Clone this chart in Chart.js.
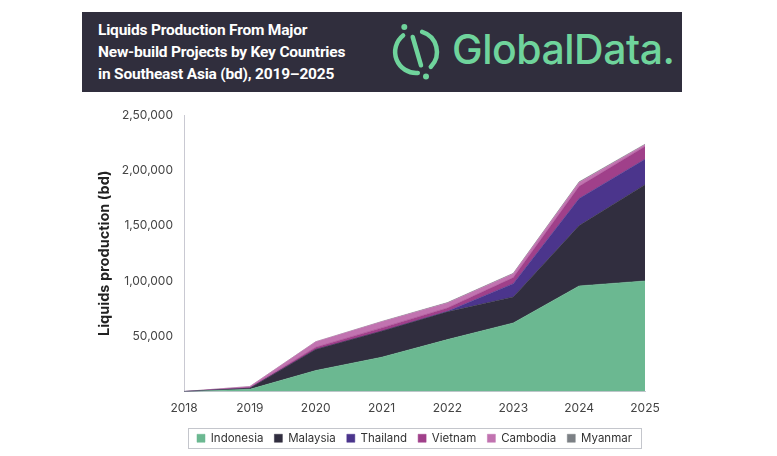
<!DOCTYPE html>
<html>
<head>
<meta charset="utf-8">
<script src="https://cdn.jsdelivr.net/npm/chart.js@4.4.1/dist/chart.umd.min.js"></script>
<style>
  html, body { margin: 0; padding: 0; background: #fff; }
  body { width: 777px; height: 456px; position: relative; overflow: hidden; font-family: Inter, "Noto Sans", sans-serif; }
  .header { position: absolute; left: 82px; top: 12px; width: 600px; height: 80px; background: #302e3d; }
  .title { position: absolute; left: 16px; top: 7px; color: #fff; font-family: Roboto, sans-serif; font-weight: 700; font-size: 15.5px; line-height: 22px; letter-spacing: -0.2px; }
  .logo { position: absolute; left: 303px; top: 9px; width: 62px; height: 62px; }
  .brand { position: absolute; left: 370px; top: 12px; color: #6fd49c; font-family: Inter, sans-serif; font-weight: 500; font-size: 41px; letter-spacing: -0.5px; }
  #wrap { position: absolute; left: 82px; top: 100px; width: 664px; height: 356px; }
</style>
</head>
<body>
<div class="header">
  <div class="title">Liquids Production From Major<br>New-build Projects by Key Countries<br>in Southeast Asia (bd), 2019–2025</div>
  <svg class="logo" viewBox="-31 -31 62 62">
    <path d="M-12.9 -16.5 A21 21 0 0 0 1.8 20.9" fill="none" stroke="#6fd49c" stroke-width="4.5" stroke-linecap="round"/>
    <path d="M6.1 -20.1 A21 21 0 0 1 14.8 14.8" fill="none" stroke="#6fd49c" stroke-width="4.5" stroke-linecap="round"/>
    <line x1="-3.3" y1="-15" x2="5" y2="13.3" stroke="#6fd49c" stroke-width="4.5" stroke-linecap="round"/>
    <circle cx="-11.7" cy="-25" r="3" fill="#6fd49c"/>
    <circle cx="10" cy="24.5" r="3" fill="#6fd49c"/>
  </svg>
  <div class="brand">GlobalData.</div>
</div>
<div id="wrap"><canvas id="c"></canvas></div>
<script>
// ========== DATOS ==========
const anios = ['2018', '2019', '2020', '2021', '2022', '2023', '2024', '2025'];
const indonesia = [0, 2000, 19000, 31000, 47000, 62000, 95500, 100000];
const malaysia  = [0, 1000, 19000, 23500, 25000, 23500, 54500, 87000];
const thailand  = [0, 0, 0, 0, 500, 12000, 24500, 23000];
const vietnam   = [0, 500, 2000, 3000, 3000, 5500, 11000, 11500];
const cambodia  = [0, 1000, 5000, 5500, 4500, 3500, 3500, 1500];
const myanmar   = [0, 0, 0, 300, 400, 400, 600, 600];

const ticksY = { 0: '', 50000: '50,000', 100000: '1,00,000', 150000: '1,50,000', 200000: '2,00,000', 250000: '2,50,000' };

const series = [
  { label: 'Indonesia', data: indonesia, color: '#6bb891' },
  { label: 'Malaysia',  data: malaysia,  color: '#312e3f' },
  { label: 'Thailand',  data: thailand,  color: '#4b358c' },
  { label: 'Vietnam',   data: vietnam,   color: '#a0408a' },
  { label: 'Cambodia',  data: cambodia,  color: '#c173b0' },
  { label: 'Myanmar',   data: myanmar,   color: '#7c8085' }
];

// leyenda centrada bajo el area del grafico, con borde
const ajusteLeyenda = {
  id: 'ajusteLeyenda',
  afterLayout(chart) {
    const lg = chart.legend;
    const d = (chart.chartArea.left + chart.chartArea.right) / 2 - (lg.left + lg.right) / 2;
    lg.left += d;
    lg.right += d;
  },
  afterDraw(chart) {
    const cajas = chart.legend.legendHitBoxes;
    if (!cajas || !cajas.length) return;
    const izq = Math.min(...cajas.map(b => b.left)) - 9;
    const der = Math.max(...cajas.map(b => b.left + b.width)) + 9;
    const centro = cajas[0].top + cajas[0].height / 2;
    const ctx = chart.ctx;
    ctx.save();
    ctx.strokeStyle = '#c4c6cc';
    ctx.lineWidth = 1;
    ctx.strokeRect(Math.round(izq) + 0.5, Math.round(centro - 10) + 0.5, Math.round(der - izq), 20);
    ctx.restore();
  }
};

new Chart(document.getElementById('c'), {
  type: 'line',
  data: {
    labels: anios,
    datasets: series.map((s, i) => ({
      label: s.label,
      data: s.data,
      backgroundColor: s.color,
      borderColor: s.color,
      borderWidth: 0.5,
      pointRadius: 0,
      tension: 0,
      fill: i === 0 ? 'origin' : '-1'
    }))
  },
  options: {
    responsive: true,
    maintainAspectRatio: false,
    animation: false,
    layout: { padding: { top: 15, right: 101, bottom: 2, left: 0 } },
    plugins: {
      tooltip: { enabled: false },
      legend: {
        position: 'bottom',
        labels: {
          boxWidth: 8, boxHeight: 8, padding: 11,
          color: '#333', font: { family: 'Inter', size: 11.5 }
        }
      }
    },
    scales: {
      x: {
        offset: false,
        afterFit(scale) { scale.height = 30; },
        grid: { display: false, drawTicks: true, tickLength: 5, color: '#c9c9d2' },
        border: { color: '#c9c9d2' },
        ticks: { color: '#444', font: { family: 'Inter', size: 12 }, padding: 5, maxRotation: 0 }
      },
      y: {
        stacked: true,
        min: 0, max: 250000,
        afterFit(scale) { scale.width = 102; },
        grid: { display: false, drawTicks: true, tickLength: 7, color: '#c9c9d2' },
        border: { color: '#c9c9d2' },
        title: { display: true, text: 'Liquids production (bd)', color: '#222', font: { family: 'Inter', size: 14.5, weight: 'bold' }, padding: { top: 14, bottom: 0 } },
        ticks: {
          stepSize: 50000, color: '#444', font: { family: 'Inter', size: 12 }, padding: 4,
          callback: v => ticksY[v] ?? ''
        }
      }
    }
  },
  plugins: [ajusteLeyenda]
});
</script>
</body>
</html>
